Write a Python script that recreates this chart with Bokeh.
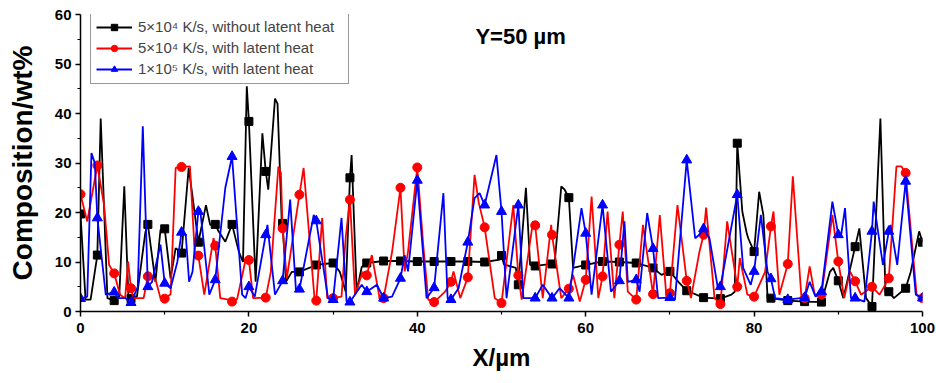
import numpy as np
from bokeh.plotting import figure
from bokeh.models import Range1d, FixedTicker, Legend, LegendItem, Label
from bokeh.embed import file_html
from bokeh.resources import INLINE

# ---------------- data ----------------
black_x = [0, 0.6, 1.2, 2.0, 2.4, 3.2, 4.0, 4.6, 5.2, 5.7, 6.0, 6.7, 7.7, 8.0, 8.9, 9.5, 10.0, 10.7, 11.3, 12.0,
           12.85, 13.4, 14.0, 14.9, 15.4, 16.0, 16.4, 17.2, 18.0, 18.8, 19.3, 19.75, 20.0, 20.8, 21.6, 22.0, 22.3,
           23.1, 23.4, 23.9, 24.0, 24.4, 25.1, 26.0, 28.0, 30.0, 30.8, 31.5, 32.0, 32.2, 32.8, 33.4, 34.0, 36.0,
           38.0, 40.0, 42.0, 44.0, 46.0, 48.0, 49.8, 50.0, 50.3, 51.7, 52.0, 52.9, 53.4, 54.0, 56.0, 56.3, 57.1,
           57.5, 58.0, 58.5, 60.0, 62.0, 64.0, 66.0, 68.0, 69.0, 70.0, 71.0, 72.0, 74.0, 76.0, 77.3, 77.7, 78.0,
           78.6, 79.1, 79.3, 80.0, 80.6, 81.1, 81.6, 82.0, 84.0, 86.0, 88.0, 89.0, 89.4, 90.0, 90.6, 92.5, 93.3,
           94.0, 95.0, 95.6, 96.0, 96.6, 98.0, 98.6, 99.6, 100.0]
black_y = [19.7, 2.4, 2.4, 11.4, 39.0, 2.7, 2.2, 3.0, 25.3, 2.5, 2.6, 3.0, 16.0, 17.6, 6.0, 16.5, 16.7, 6.7, 12.8, 11.8,
           29.0, 22.0, 14.0, 21.5, 17.5, 17.6, 16.2, 14.1, 17.6, 12.1, 10.0, 45.5, 38.4, 6.0, 36.0, 28.3, 24.6,
           43.0, 42.0, 18.2, 17.8, 6.0, 8.0, 8.0, 9.4, 9.8, 8.0, 4.0, 27.0, 31.6, 4.0, 9.0, 9.8, 10.2,
           10.2, 10.1, 10.1, 10.1, 10.1, 10.0, 10.5, 11.3, 9.5, 8.8, 5.4, 25.0, 9.4, 9.2, 9.6, 9.5, 25.3,
           24.6, 23.0, 8.8, 9.4, 10.1, 10.0, 9.8, 8.8, 7.4, 8.1, 6.0, 4.2, 2.8, 2.6, 3.4, 4.0, 34.0,
           20.2, 16.0, 14.8, 12.1, 24.2, 19.5, 2.7, 2.7, 2.2, 2.0, 1.9, 8.0, 8.8, 6.2, 2.7, 16.8, 2.7,
           1.0, 39.0, 4.0, 4.0, 2.7, 4.7, 8.0, 16.2, 14.0]

red_x = [0, 0.8, 2.0, 2.8, 3.4, 4.0, 4.7, 5.3, 5.65, 6.0, 6.3, 7.5, 8.0, 8.9, 9.5, 10.0, 10.7, 11.3, 12.0, 13.0,
         13.6, 14.0, 14.7, 15.8, 16.0, 16.6, 17.6, 18.0, 18.6, 19.6, 20.0, 20.5, 22.0, 22.6, 23.5, 23.8, 24.0,
         24.5, 25.5, 26.0, 26.5, 27.8, 28.0, 28.7, 29.3, 30.0, 31.0, 31.5, 32.0, 32.6, 33.5, 34.0, 34.6, 35.6,
         36.0, 37.0, 38.0, 38.5, 38.9, 40.0, 40.7, 41.3, 42.0, 43.3, 44.0, 44.3, 45.1, 46.0, 46.8, 47.3, 48.0,
         49.2, 50.0, 51.4, 52.0, 52.4, 53.75, 54.0, 54.9, 55.9, 56.0, 57.1, 58.0, 58.5, 59.3, 60.0, 60.7, 61.5,
         62.0, 62.6, 63.4, 64.0, 64.4, 65.0, 66.0, 66.8, 68.0, 68.8, 69.6, 70.0, 70.9, 72.0, 72.5, 73.5, 74.0,
         74.3, 75.3, 76.0, 76.8, 78.0, 78.3, 79.2, 80.0, 81.3, 82.0, 82.3, 83.0, 84.0, 84.6, 85.6, 86.0, 86.6,
         87.2, 88.0, 89.3, 90.0, 90.7, 91.4, 92.0, 92.7, 94.0, 94.9, 96.0, 96.9, 97.5, 98.0, 99.3, 100.0]
red_y = [23.7, 18.2, 29.5, 21.5, 9.4, 7.7, 3.4, 2.7, 10.1, 4.7, 2.7, 2.7, 7.1, 6.5, 2.7, 2.6, 3.5, 29.0, 29.2, 29.3,
         10.8, 11.3, 3.4, 14.8, 13.3, 2.7, 2.4, 2.0, 2.5, 10.4, 10.4, 2.7, 2.8, 8.0, 29.3, 28.0, 16.8,
         6.7, 18.0, 23.6, 29.0, 2.5, 2.2, 18.9, 2.7, 2.7, 3.0, 15.0, 22.6, 3.4, 8.0, 7.3, 11.4, 2.0,
         2.7, 12.0, 25.0, 8.1, 12.1, 29.1, 13.5, 2.4, 1.9, 4.0, 6.0, 8.1, 2.7, 6.9, 27.6, 22.0, 17.0,
         2.7, 1.7, 21.5, 7.3, 2.4, 18.2, 17.4, 2.7, 17.5, 15.5, 2.7, 4.6, 7.4, 2.0, 6.4, 23.2, 2.7,
         7.1, 20.2, 2.7, 13.5, 20.2, 4.0, 2.4, 17.5, 3.5, 19.5, 2.7, 3.7, 21.5, 6.2, 2.7, 12.0, 15.5,
         21.0, 2.7, 1.5, 18.2, 5.0, 10.8, 3.4, 3.0, 8.0, 17.2, 20.2, 3.4, 9.6, 27.3, 3.4, 2.7, 9.1,
         3.4, 3.4, 19.5, 10.1, 2.7, 8.1, 6.1, 3.4, 5.0, 3.4, 6.7, 29.3, 29.3, 28.0, 3.4, 2.7]

blue_x = [0, 0.8, 1.3, 1.7, 2.0, 3.0, 4.0, 4.5, 5.3, 6.0, 6.8, 7.4, 8.0, 8.5, 9.5, 10.0, 10.7, 11.5, 12.0, 12.5,
          12.9, 13.3, 14.0, 14.2, 15.3, 16.0, 17.2, 18.0, 19.2, 19.6, 20.0, 20.7, 22.0, 22.2, 23.1, 24.0, 24.9,
          25.6, 26.0, 27.7, 28.0, 29.4, 30.0, 31.0, 31.6, 32.0, 33.4, 34.0, 35.2, 36.0, 37.0, 38.0, 38.5, 38.9,
          40.0, 41.1, 42.0, 43.1, 43.6, 44.0, 44.9, 46.0, 46.8, 47.4, 48.0, 49.4, 50.0, 50.6, 52.0, 52.6, 54.0,
          54.9, 56.0, 56.9, 58.0, 59.5, 60.0, 60.7, 62.0, 63.0, 64.0, 64.6, 65.0, 66.0, 66.4, 67.3, 68.0, 68.6,
          70.0, 70.6, 72.0, 73.0, 73.5, 74.0, 74.7, 75.7, 76.0, 78.0, 78.7, 79.6, 80.0, 80.8, 81.6, 82.0, 82.5,
          84.0, 86.0, 86.6, 87.3, 88.0, 89.3, 90.0, 90.3, 90.8, 91.5, 92.0, 93.1, 94.0, 94.2, 95.3, 96.0, 96.2,
          97.0, 98.0, 99.2, 100.0]
blue_y = [2.6, 3.0, 32.0, 30.0, 18.9, 3.4, 3.9, 2.7, 2.7, 1.8, 5.0, 37.4, 5.0, 6.0, 13.5, 5.7, 4.7, 10.0, 16.0, 15.5,
          6.0, 8.0, 20.2, 20.8, 3.4, 6.4, 25.0, 31.3, 3.4, 2.7, 5.0, 3.0, 15.5, 17.5, 3.4, 6.2, 22.6,
          4.0, 4.5, 19.5, 18.3, 2.7, 2.4, 18.9, 2.0, 1.9, 5.4, 4.0, 5.4, 2.7, 3.0, 6.7, 11.4, 8.1,
          26.5, 2.7, 4.8, 23.9, 2.7, 2.4, 4.7, 14.0, 22.9, 23.9, 21.5, 31.6, 20.2, 2.7, 21.5, 2.7, 2.7,
          5.4, 2.7, 4.7, 2.7, 20.9, 15.8, 3.4, 21.5, 4.0, 6.2, 18.2, 6.0, 6.4, 4.0, 19.9, 12.7, 2.7,
          2.8, 2.4, 30.6, 14.8, 15.5, 16.7, 14.8, 4.7, 5.0, 23.6, 8.8, 5.4, 8.1, 19.5, 8.0, 6.6, 2.7,
          2.4, 2.8, 6.0, 3.0, 4.0, 22.2, 15.5, 15.0, 20.9, 2.7, 2.7, 2.0, 16.2, 22.2, 9.4, 16.2, 17.5,
          9.4, 26.3, 3.4, 2.7]

marker_x = list(range(0, 101, 2))

series_labels = ["5×10⁴ K/s, without latent heat",
                 "5×10⁴ K/s, with latent heat",
                 "1×10⁵ K/s, with latent heat"]
x_ticks = [0, 20, 40, 60, 80, 100]
x_minor = [10, 30, 50, 70, 90]
y_ticks = [0, 10, 20, 30, 40, 50, 60]
y_minor = [5, 15, 25, 35, 45, 55]
title_text = "Y=50 µm"

FONT = "Liberation Sans"

p = figure(width=936, height=383, output_backend="svg", toolbar_location=None,
           x_range=Range1d(0, 100), y_range=Range1d(0, 60),
           min_border_left=80, min_border_right=14, min_border_top=14, min_border_bottom=72,
           x_axis_label="X/µm", y_axis_label="Composition/wt%")
p.outline_line_color = None
p.grid.visible = False
p.background_fill_color = "white"
p.border_fill_color = "white"

p.xaxis.ticker = FixedTicker(ticks=x_ticks, minor_ticks=x_minor)
p.yaxis.ticker = FixedTicker(ticks=y_ticks, minor_ticks=y_minor)
for ax in (p.xaxis[0], p.yaxis[0]):
    ax.axis_line_width = 1.5
    ax.major_tick_line_width = 1.5
    ax.minor_tick_line_width = 1.2
    ax.major_tick_in = 0
    ax.major_tick_out = 5
    ax.minor_tick_in = 0
    ax.minor_tick_out = 3
    ax.major_label_text_font = FONT
    ax.major_label_text_font_style = "bold"
    ax.major_label_text_font_size = "15px"
    ax.major_label_text_color = "black"
    ax.axis_label_text_font = FONT
    ax.axis_label_text_font_style = "bold"
    ax.axis_label_text_color = "black"
p.xaxis.major_label_standoff = 6
p.xaxis.axis_label_standoff = 8
p.xaxis.axis_label_text_font_size = "24px"
p.yaxis.major_label_standoff = 4
p.yaxis.axis_label_standoff = 14
p.yaxis.axis_label_text_font_size = "28px"

specs = [
    (black_x, black_y, "black", "square", 8),
    (red_x, red_y, "#ff0000", "circle", 9),
    (blue_x, blue_y, "#0000ff", "triangle", 10),
]
items = []
for (xs, ys, col, mk, sz), lab in zip(specs, series_labels):
    r_line = p.line(xs, ys, line_color=col, line_width=1.8)
    my = np.interp(marker_x, xs, ys)
    r_mk = p.scatter(marker_x, my, marker=mk, size=sz, fill_color=col, line_color=col)
    items.append(LegendItem(label=lab, renderers=[r_line, r_mk]))

legend = Legend(items=items, location=(10, 227), padding=5, margin=0, spacing=2,
                glyph_width=36, glyph_height=16, label_height=19, label_width=205, label_standoff=6,
                label_text_font=FONT, label_text_font_size="15px",
                border_line_color="#333333", border_line_width=1,
                background_fill_color="white", background_fill_alpha=1.0)
p.add_layout(legend, "center")

p.add_layout(Label(x=46.9, y=55.6, text=title_text, text_font=FONT, text_font_style="bold",
                   text_font_size="22px", text_baseline="middle", text_align="left", text_color="black"))

open("out.html", "w").write(file_html(p, INLINE))
